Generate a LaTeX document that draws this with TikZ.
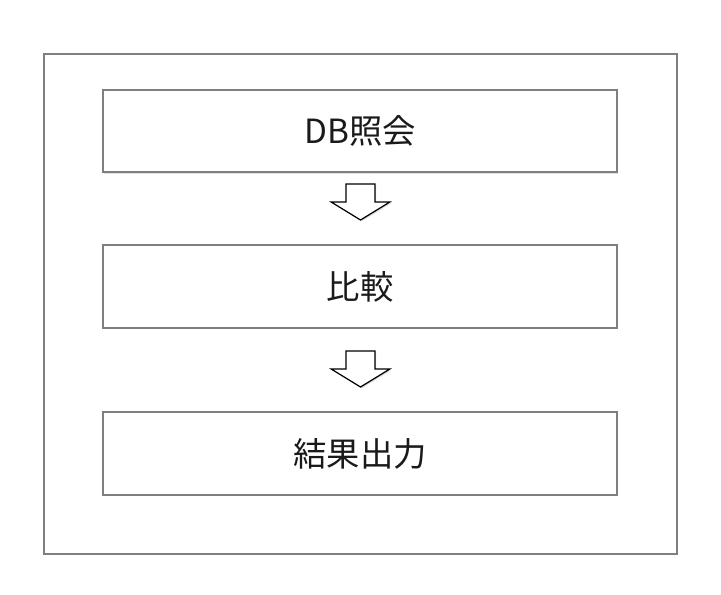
\documentclass[tikz,border=0pt]{standalone}
\usepackage{fontspec}
\setmainfont{Noto Sans CJK JP}
\usepackage{xcolor}
\definecolor{frameGray}{HTML}{7F7F7F}
\definecolor{darkText}{HTML}{1A1A1A}
\usepackage{tikz}
\usetikzlibrary{
    shadows,
    positioning,
    calc
}
\tikzset{
    % Outer frame round the whole flow
    outer frame/.style={
        draw=frameGray,
        line width=1.7pt,
        fill=white,
        minimum width=474.75pt,
        minimum height=375pt,
        drop shadow={shadow xshift=1pt, shadow yshift=-1pt, opacity=0.25},
    },
    % Step boxes
    stepbox/.style={
        draw=frameGray,
        line width=1.7pt,
        fill=white,
        minimum width=385.5pt,
        minimum height=62pt,
        font=\fontsize{25}{30}\selectfont,
        text=darkText,
        drop shadow={shadow xshift=1pt, shadow yshift=-1.2pt, opacity=0.25},
    },
    % Hollow block arrow between two steps
    downarrow/.pic={
        \draw[line width=0.9pt, fill=white, line join=miter,
              drop shadow={shadow xshift=0.8pt, shadow yshift=-1pt, opacity=0.3}]
            (-10.9pt,27pt) -- (10.9pt,27pt) -- (10.9pt,13.5pt) -- (22pt,13.5pt)
            -- (0,0) -- (-22pt,13.5pt) -- (-10.9pt,13.5pt) -- cycle;
    },
}

\begin{document}
\begin{tikzpicture}[x=0.75pt, y=-0.75pt]
    \useasboundingbox (0,0) rectangle (721,595);

    \node (frame) [outer frame] at (360.5,304) {};

    \node (query)   [stepbox] at (360,131)   {DB照会};
    \node (compare) [stepbox] at (360,286.5) {比較};
    \node (output)  [stepbox] at (360,453.5) {結果出力};

    \pic at (360.5,220) {downarrow};
    \pic at (360.5,387) {downarrow};
\end{tikzpicture}
\end{document}
